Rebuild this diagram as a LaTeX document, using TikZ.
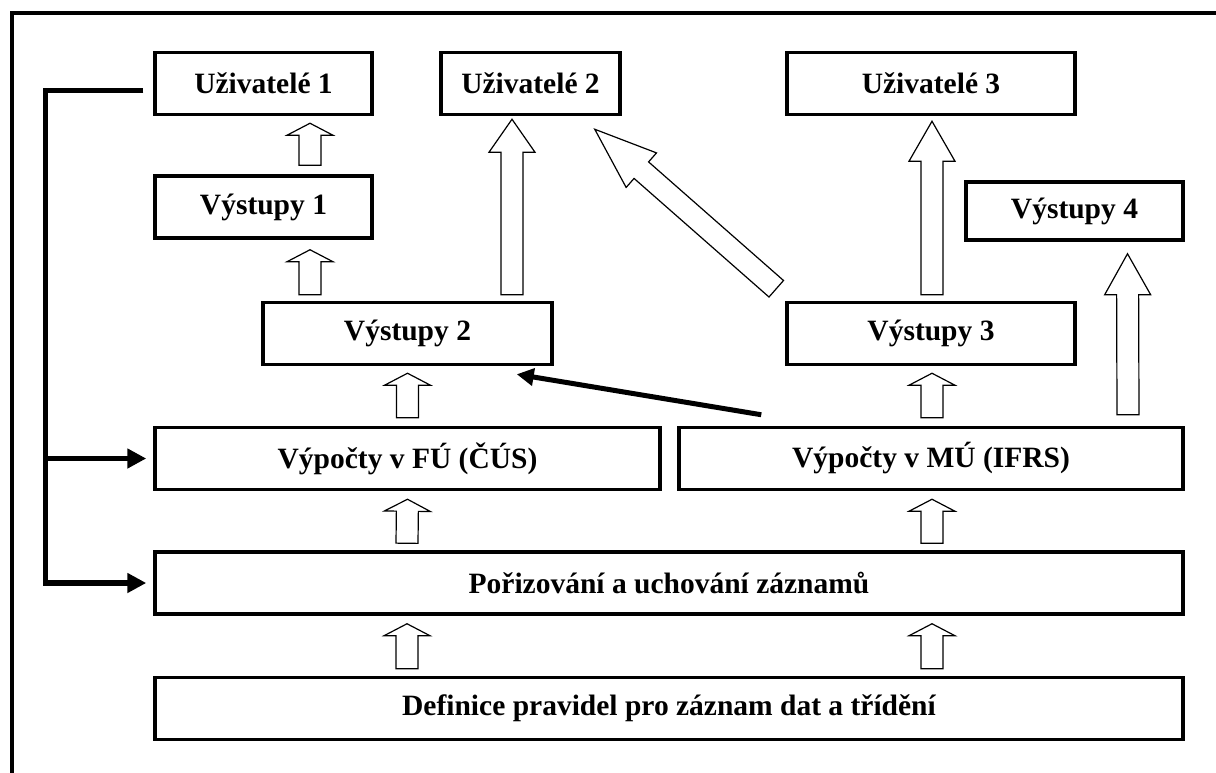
\documentclass[tikz,border=0pt]{standalone}
\usepackage{fontspec}
\setmainfont{Liberation Serif}
\usetikzlibrary{calc,arrows.meta}
\newcommand{\blockarr}[3]{%
  \coordinate (bah) at ($(#2)!#3!(#1)$);
  \draw[barrow] ($(#1)!11pt!90:(#2)$) -- ($(bah)!11pt!-90:(#1)$) -- ($(bah)!23pt!-90:(#1)$) -- (#2)
    -- ($(bah)!23pt!90:(#1)$) -- ($(bah)!11pt!90:(#1)$) -- ($(#1)!11pt!-90:(#2)$) -- cycle;}
\begin{document}
\begin{tikzpicture}[x=1pt,y=-1pt,
  box/.style={draw, line width=3.5pt, inner sep=0pt, minimum height=62pt,
    font=\bfseries\fontsize{29.5}{35}\selectfont},
  barrow/.style={draw, line width=1.2pt, fill=white, line join=miter},
  brk/.style={line width=5.5pt, line join=miter},
  brktip/.style={-{Triangle[length=19pt,width=19pt]}, shorten >=7pt}]
\useasboundingbox (0,0) rectangle (1216,773);
\draw[line width=4pt, line join=miter] (1216,13) -- (12,13) -- (12,773);
% boxes
\node[box, minimum width=217pt] (u1) at (263.5,83.5) {Uživatelé 1};
\node[box, minimum width=179pt] (u2) at (530.5,83.5) {Uživatelé 2};
\node[box, minimum width=288pt] (u3) at (931,83.5) {Uživatelé 3};
\node[box, minimum width=217pt] (v1) at (263.5,207) {Výstupy 1};
\node[box, minimum width=217pt, minimum height=58pt] (v4) at (1074.5,211) {Výstupy 4};
\node[box, minimum width=289pt] (v2) at (407.5,333.5) {Výstupy 2};
\node[box, minimum width=288pt] (v3) at (931,333.5) {Výstupy 3};
\node[box, minimum width=505pt] (pf) at (407.5,458.5) {Výpočty v FÚ (ČÚS)};
\node[box, minimum width=504pt] (pm) at (931,458.5) {Výpočty v MÚ (IFRS)};
\node[box, minimum width=1028pt] (por) at (669,583) {Pořizování a uchování záznamů};
\node[box, minimum width=1028pt] (def) at (669,708.5) {Definice pravidel pro záznam dat a třídění};
% block arrows
\coordinate (a1s) at ($(v1.north)+(46.5,-9)$); \coordinate (a1e) at ($(u1.south)+(46.5,7)$);
\blockarr{a1s}{a1e}{12pt}
\coordinate (a2s) at ($(v2.north)+(-97.5,-6)$); \coordinate (a2e) at ($(v1.south)+(46.5,10)$);
\blockarr{a2s}{a2e}{12pt}
\coordinate (a3s) at ($(v2.north)+(104.5,-6)$); \coordinate (a3e) at ($(u2.south)+(-18.5,3)$);
\blockarr{a3s}{a3e}{33pt}
\coordinate (a4s) at ($(pf.north)+(0,-8)$); \coordinate (a4e) at ($(v2.south)+(0,7)$);
\blockarr{a4s}{a4e}{12pt}
\coordinate (a5s) at ($(por.north)+(-262,-7)$); \coordinate (a5e) at ($(pf.south)+(0,8)$);
\blockarr{a5s}{a5e}{12pt}
\coordinate (a6s) at ($(def.north)+(-262,-7)$); \coordinate (a6e) at ($(por.south)+(-262,8)$);
\blockarr{a6s}{a6e}{12pt}
\coordinate (a7s) at ($(def.north)+(263,-7)$); \coordinate (a7e) at ($(por.south)+(263,8)$);
\blockarr{a7s}{a7e}{12pt}
\coordinate (a8s) at ($(por.north)+(263,-7)$); \coordinate (a8e) at ($(pm.south)+(1,8)$);
\blockarr{a8s}{a8e}{12pt}
\coordinate (a9s) at ($(pm.north)+(1,-8)$); \coordinate (a9e) at ($(v3.south)+(1,7)$);
\blockarr{a9s}{a9e}{12pt}
\coordinate (a10s) at ($(v3.north)+(1,-6)$); \coordinate (a10e) at ($(u3.south)+(1,5)$);
\blockarr{a10s}{a10e}{40pt}
\coordinate (a11s) at ($(pm.north)+(197,-11)$); \coordinate (a11e) at ($(v4.south)+(53,12)$);
\blockarr{a11s}{a11e}{41pt}
\coordinate (a12s) at ($(v3.north west)+(-9,-12)$); \coordinate (a12e) at ($(u2.south east)+(-27,13)$);
\blockarr{a12s}{a12e}{62pt}
% thick arrow
\coordinate (d1) at ($(pm.north west)+(84,-11)$); \coordinate (d2) at ($(v2.south east)+(-37,8)$);
\draw[line width=5pt, -{Triangle[length=17pt,width=17pt]}] (d1) -- (d2);
% left bracket
\coordinate (bt) at ($(u1.west)+(-10,7)$);
\coordinate (bb) at ($(por.west)+(-108,0)$);
\coordinate (bm) at ($(pf.west)+(-108,0)$);
\draw[brk, brktip] (bt) -| (bb) -- (por.west);
\draw[brk, brktip] (bm) -- (pf.west);
\end{tikzpicture}
\end{document}
